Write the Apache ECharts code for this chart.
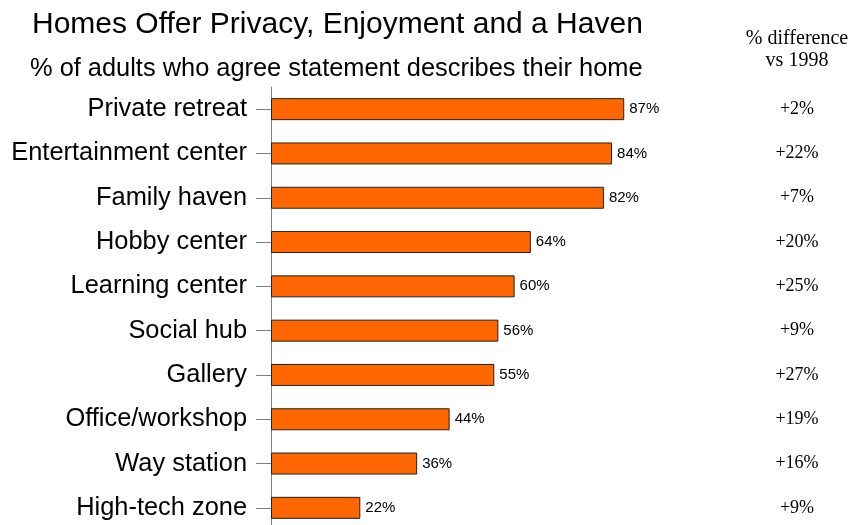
<!DOCTYPE html>
<html>
<head>
<meta charset="utf-8">
<script src="https://cdn.jsdelivr.net/npm/echarts@6/dist/echarts.min.js"></script>
<style>html,body{margin:0;padding:0;background:#fff;}#c{width:855px;height:525px;}</style>
</head>
<body>
<div id="c"></div>
<script>
var categories = ["Private retreat","Entertainment center","Family haven","Hobby center","Learning center","Social hub","Gallery","Office/workshop","Way station","High-tech zone"];
var agreePct = [87,84,82,64,60,56,55,44,36,22];
var diffVs1998 = ["+2%","+22%","+7%","+20%","+25%","+9%","+27%","+19%","+16%","+9%"];

var chart = echarts.init(document.getElementById('c'), null, {renderer:'canvas'});
var sans = 'Liberation Sans, Arial, sans-serif';
var serif = 'Liberation Serif, Times New Roman, serif';
chart.setOption({
  animation:false,
  backgroundColor:'#ffffff',
  title:[
    {text:'Homes Offer Privacy, Enjoyment and a Haven', left:32, top:10, padding:0,
     textStyle:{fontFamily:sans, fontSize:30, fontWeight:'normal', color:'#000'}},
    {text:'% of adults who agree statement describes their home', left:30, top:56, padding:0,
     textStyle:{fontFamily:sans, fontSize:25.4, fontWeight:'normal', color:'#000'}},
    {text:'% difference\nvs 1998', left:797, top:28, textAlign:'center', padding:0,
     textStyle:{fontFamily:serif, fontSize:20, fontWeight:'normal', color:'#000', lineHeight:22}}
  ],
  grid:{left:271, top:87, width:406, height:443, outerBoundsMode:'none', containLabel:false},
  xAxis:{type:'value', min:0, max:100, show:false},
  yAxis:[
    {type:'category', data:categories, inverse:true,
     axisLine:{show:true, lineStyle:{color:'#808080', width:1}},
     axisTick:{show:true, alignWithLabel:true, length:15, lineStyle:{color:'#808080'}},
     axisLabel:{fontFamily:sans, fontSize:25.4, color:'#000', margin:24},
     splitLine:{show:false}},
    {type:'category', data:categories, inverse:true, position:'right',
     axisLine:{show:false}, axisTick:{show:false}, splitLine:{show:false},
     axisLabel:{fontFamily:serif, fontSize:18, color:'#000', margin:120, align:'center',
       formatter:function(v, i){ return diffVs1998[i]; }}}
  ],
  series:[{
    type:'bar', data:agreePct, barWidth:22,
    itemStyle:{color:'#FF6600', borderColor:'#222', borderWidth:1},
    label:{show:true, position:'right', distance:5, formatter:'{c}%',
      fontFamily:sans, fontSize:15, color:'#000'}
  }]
});
</script>
</body>
</html>
